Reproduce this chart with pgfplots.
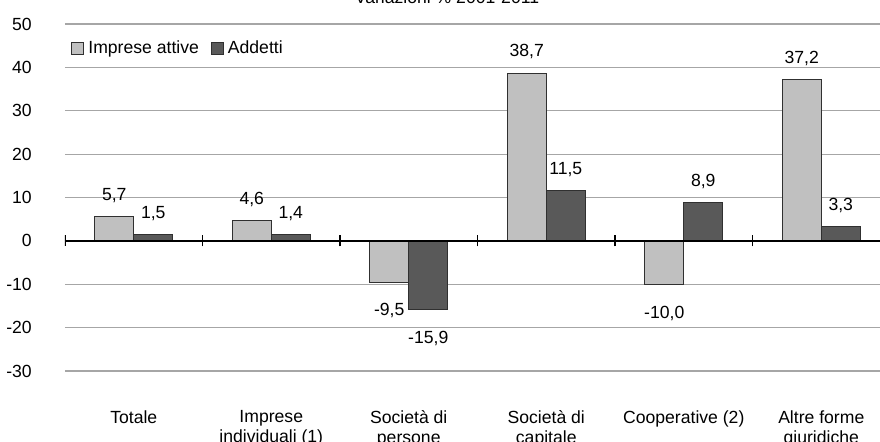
\documentclass[border=0pt]{standalone}
\usepackage{pgfplots}
\pgfplotsset{compat=1.18}
\usepackage{fontspec}
\setmainfont{Liberation Sans}

\definecolor{lightbar}{HTML}{C0C0C0}
\definecolor{darkbar}{HTML}{595959}
\definecolor{gridgray}{HTML}{A6A6A6}
\definecolor{edge}{HTML}{303030}

\begin{document}
\fontsize{8.8}{10}\selectfont
\begin{tikzpicture}
\begin{axis}[
    name=ax, at={(0,0)}, anchor=south west,
    scale only axis,
    width=407.5pt, height=173.5pt,
    xmin=-0.5, xmax=5.427,
    ymin=-30, ymax=50,
    ytick={-30,-20,...,50},
    xtick={0,...,5},
    xticklabels={Totale, Imprese\\individuali (1), Società di\\persone,
        Società di\\capitale, Cooperative (2), Altre forme\\giuridiche},
    xticklabel style={align=center, anchor=north, yshift=-16.5pt},
    yticklabel style={xshift=-13.5pt},
    major tick length=0pt,
    axis line style={draw=none},
    ymajorgrids,
    grid style={gridgray, line width=0.6pt},
    ybar=0pt, bar width=19.5pt,
    /pgf/number format/assume math mode=true,
    font=\fontsize{8.8}{10}\selectfont,
    nodes near coords,
    visualization depends on={rawy \as \rawy},
    every node near coord/.append style={
        /pgf/number format/fixed,
        /pgf/number format/fixed zerofill,
        /pgf/number format/precision=1,
        /pgf/number format/use comma,
        yshift={ifthenelse(\rawy>0,3.7,-7.6)*1pt}},
    legend style={at={(0.0,0.93)}, anchor=west, draw=none, fill=none,
        legend columns=-1,
        /tikz/every even column/.append style={column sep=4pt}},
    legend image code/.code={\draw[#1, draw=edge, line width=0.5pt] (0pt,-3pt) rectangle (6pt,3pt);},
]
\addplot[fill=lightbar, draw=edge, line width=0.5pt] coordinates {
    (0,5.7) (1,4.6) (2,-9.5) (3,38.7) (4,-10.0) (5,37.2)
};
\addplot[fill=darkbar, draw=edge, line width=0.5pt] coordinates {
    (0,1.5) (1,1.4) (2,-15.9) (3,11.5) (4,8.9) (5,3.3)
};
\legend{Imprese attive, Addetti}

% zero line with category separators
\draw[black, line width=1pt] (axis cs:-0.5,0) -- (axis cs:5.427,0);
\pgfplotsinvokeforeach{-0.5,0.5,1.5,2.5,3.5,4.5}{
    \draw[black, line width=0.6pt] ([yshift=-2.75pt]axis cs:#1,0) -- ([yshift=2.75pt]axis cs:#1,0);
}
\end{axis}

\node[anchor=base] at ([shift={(191pt,183.5pt)}]ax.south west) {Variazioni \% 2001-2011};

\pgfresetboundingbox
\path[use as bounding box] ([shift={(-32.5pt,-35.5pt)}]ax.south west)
    rectangle ([shift={(0pt,185.5pt)}]ax.south east);
\end{tikzpicture}
\end{document}
